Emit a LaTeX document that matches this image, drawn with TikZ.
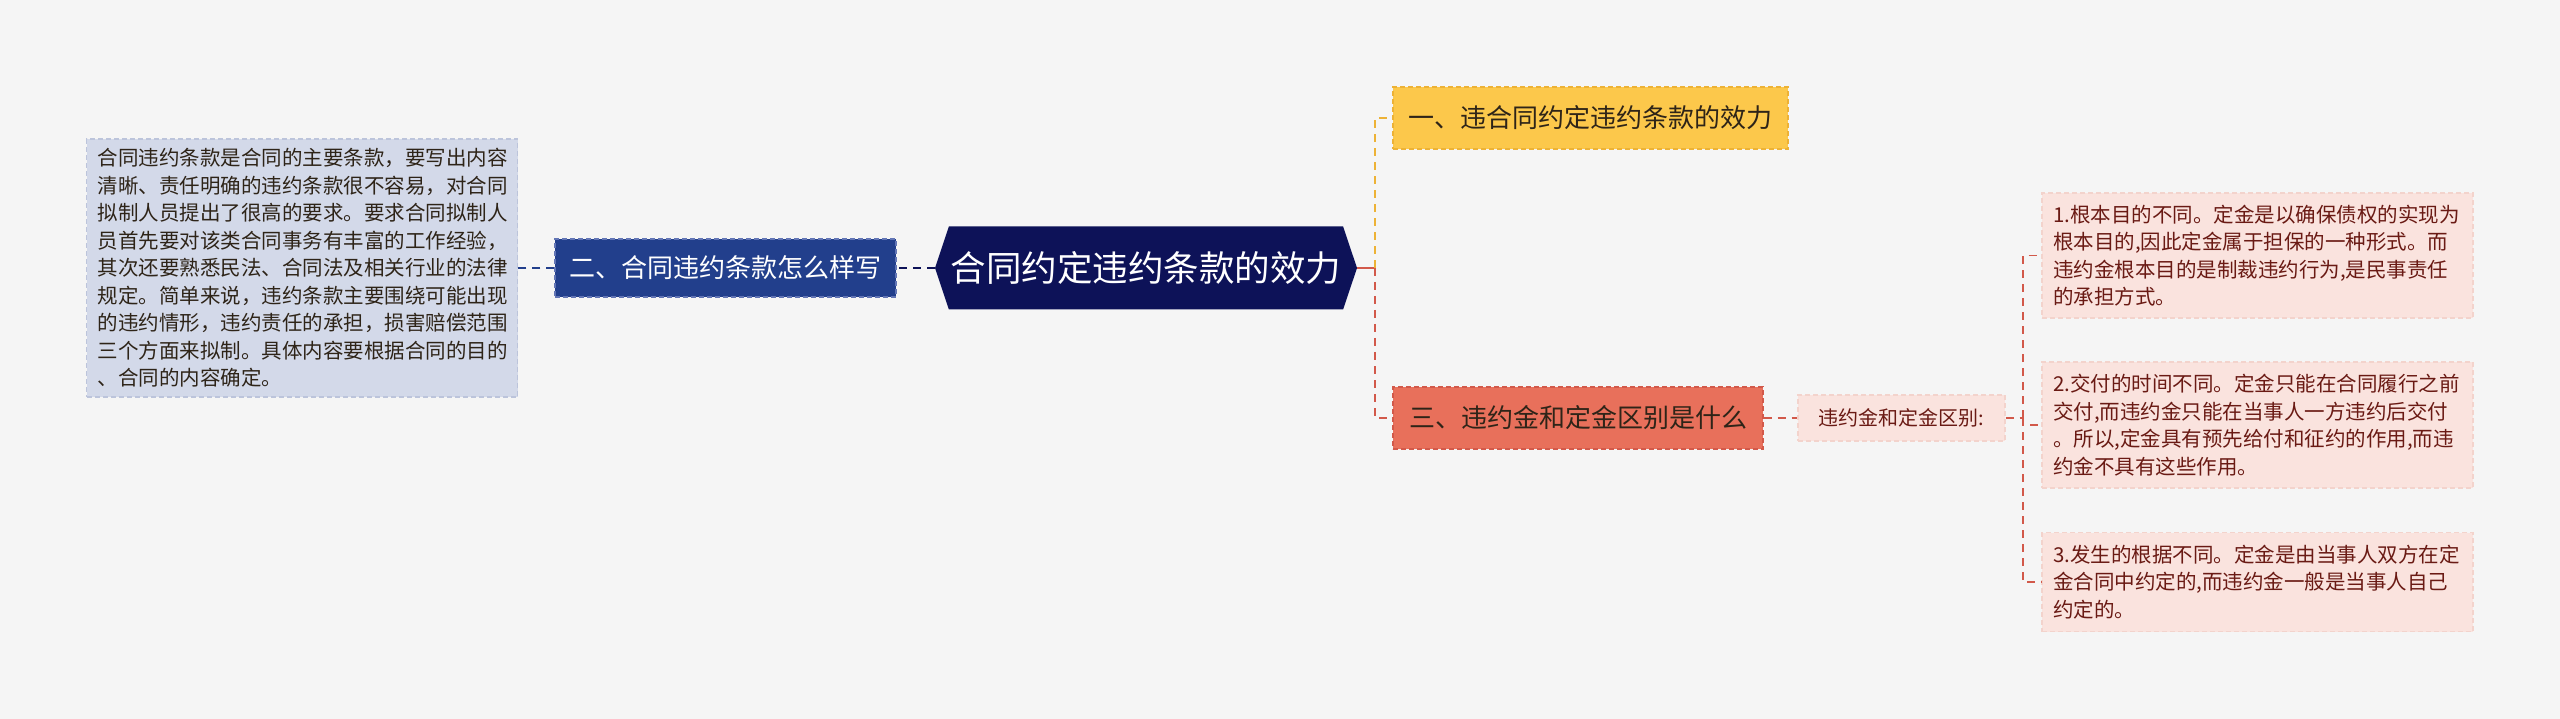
\documentclass[tikz,border=0pt]{standalone}
\usepackage{fontspec}
\setmainfont{Noto Sans CJK SC}
\usetikzlibrary{shapes.symbols}
\definecolor{bgcol}{HTML}{F5F5F5}
\definecolor{rootcol}{HTML}{0D1258}
\definecolor{twocol}{HTML}{223F8C}
\definecolor{twoline}{HTML}{6275B5}
\definecolor{leftcol}{HTML}{D3D9E9}
\definecolor{leftline}{HTML}{BCC4DB}
\definecolor{onecol}{HTML}{FCC84B}
\definecolor{oneline}{HTML}{EDB236}
\definecolor{threecol}{HTML}{E8705B}
\definecolor{threeline}{HTML}{D2594A}
\definecolor{pinkcol}{HTML}{FAE3DE}
\definecolor{pinkline}{HTML}{F3D3CC}
\definecolor{redtext}{HTML}{6A1A14}
\definecolor{darktext}{HTML}{2E2418}
\begin{document}
\begin{tikzpicture}[x=1pt, y=-1pt,
	dashbox/.style={inner sep=0pt, line width=1.3pt, dash pattern=on 5pt off 3pt},
	topic/.style={dashbox, minimum height=62pt, font=\fontsize{26}{31}\selectfont, text=darktext},
	para/.style={dashbox, align=left, text width=409pt, inner xsep=11pt, font=\fontsize{20.5}{27.5}\selectfont},
	link/.style={line width=2.5pt, dash pattern=on 8pt off 6pt}]
	% background and frame
	\fill [bgcol] (0,0) rectangle (2560,719);
	% centre
	\node [signal, signal to=east and west, signal pointer angle=143, fill=rootcol, text=white,
		minimum width=422pt, minimum height=83pt, inner sep=0pt,
		font=\fontsize{35.5}{42}\selectfont] (root) at (1146,268) {合同约定违约条款的效力};
	% left side
	\node [topic, fill=twocol, draw=twoline, text=white, minimum width=341pt, minimum height=58pt] (two) at (725.5,268) {二、合同违约条款怎么样写};
	\node [para, fill=leftcol, draw=leftline, text=darktext, minimum height=258pt] (left) at (302,268) {合同违约条款是合同的主要条款，要写出内容\\清晰、责任明确的违约条款很不容易，对合同\\拟制人员提出了很高的要求。要求合同拟制人\\员首先要对该类合同事务有丰富的工作经验，\\其次还要熟悉民法、合同法及相关行业的法律\\规定。简单来说，违约条款主要围绕可能出现\\的违约情形，违约责任的承担，损害赔偿范围\\三个方面来拟制。具体内容要根据合同的目的\\、合同的内容确定。};
	% right side
	\node [topic, fill=onecol, draw=oneline, minimum width=395pt] (one) at (1590.5,118) {一、违合同约定违约条款的效力};
	\node [topic, fill=threecol, draw=threeline, minimum width=370pt] (three) at (1578,418) {三、违约金和定金区别是什么};
	\node [dashbox, fill=pinkcol, draw=pinkline, text=redtext, minimum width=207pt, minimum height=46pt,
		font=\fontsize{20}{24}\selectfont] (diff) at (1901.5,418) {违约金和定金区别:};
	\node [para, fill=pinkcol, draw=pinkline, text=redtext, minimum height=125pt] (p1) at (2257.5,255.5) {1.根本目的不同。定金是以确保债权的实现为\\根本目的,因此定金属于担保的一种形式。而\\违约金根本目的是制裁违约行为,是民事责任\\的承担方式。};
	\node [para, fill=pinkcol, draw=pinkline, text=redtext, minimum height=126pt] (p2) at (2257.5,425) {2.交付的时间不同。定金只能在合同履行之前\\交付,而违约金只能在当事人一方违约后交付\\。所以,定金具有预先给付和征约的作用,而违\\约金不具有这些作用。};
	\node [para, fill=pinkcol, draw=pinkline, text=redtext, minimum height=99pt] (p3) at (2257.5,582) {3.发生的根据不同。定金是由当事人双方在定\\金合同中约定的,而违约金一般是当事人自己\\约定的。};
	% connectors
	\coordinate (jr) at (1375,268);
	\coordinate (jd) at (2023,418);
	\draw [link, rootcol] (root.west) -- (two.east);
	\draw [link, twocol, line width=2pt] (two.west) -- (left.east);
	\draw [line width=2.5pt, threeline] (root.east) -- (jr);
	\draw [link, oneline] (jr) |- (one.west);
	\draw [link, threeline] (jr) |- (three.west);
	\draw [link, threeline, line width=2pt] (three.east) -- (diff.west);
	\draw [link, threeline, line width=1.5pt] (diff.east) -- (jd);
	\draw [link, threeline, line width=1.5pt] (jd) |- (p1.west);
	\draw [link, threeline, line width=1.5pt] (jd) |- (p2.west);
	\draw [link, threeline, line width=1.5pt] (jd) |- (p3.west);
\end{tikzpicture}
\end{document}
